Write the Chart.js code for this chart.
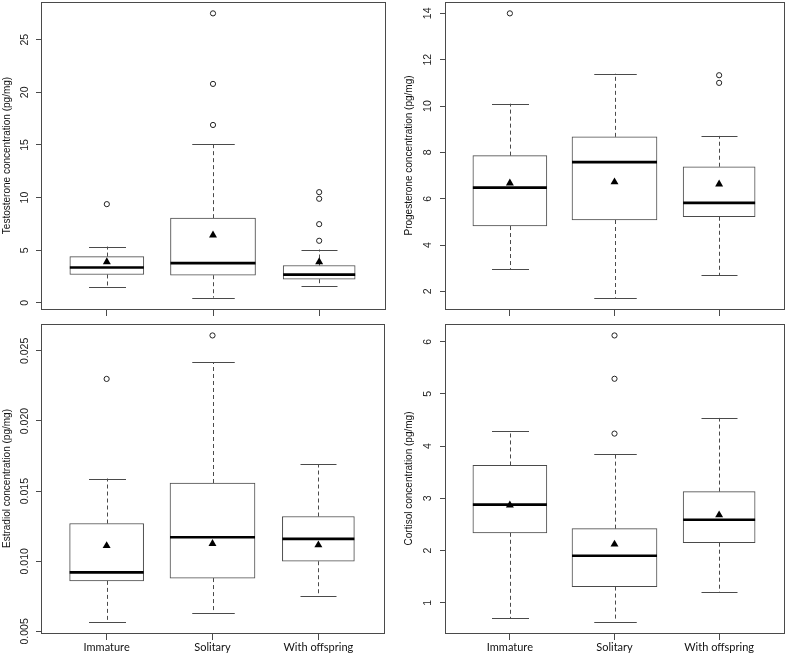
<!DOCTYPE html>
<html>
<head>
<meta charset="utf-8">
<script src="https://cdn.jsdelivr.net/npm/chart.js@4.4.1/dist/chart.umd.min.js"></script>
<style>
    body { margin: 0; background: #fff; }
    #wrap { position: relative; width: 790px; height: 656px; }
    .panel { position: absolute; }
</style>
</head>
<body>
<div id="wrap">
    <div class="panel" style="left:0;top:0"><canvas id="testoChart" width="395" height="322"></canvas></div>
    <div class="panel" style="left:395px;top:0"><canvas id="progChart" width="395" height="322"></canvas></div>
    <div class="panel" style="left:0;top:322px"><canvas id="estraChart" width="395" height="334"></canvas></div>
    <div class="panel" style="left:395px;top:322px"><canvas id="cortChart" width="395" height="334"></canvas></div>
</div>
<script>
const groups = ["Immature", "Solitary", "With offspring"];

// Testosterone (pg/mg)
const testoLow = [1.5, 0.5, 1.65];
const testoQ1 = [2.7, 2.63, 2.25];
const testoMedian = [3.36, 3.77, 2.69];
const testoQ3 = [4.4, 8.05, 3.55];
const testoHigh = [5.35, 15.05, 5.07];
const testoMean = [3.9, 6.43, 3.9];
const testoOutliers = [[9.38], [16.9, 20.8, 27.5], [5.9, 7.48, 9.89, 10.52]];
const testoTicks = [0, 5, 10, 15, 20, 25];
const testoTickLabels = ["0", "5", "10", "15", "20", "25"];

// Progesterone (pg/mg)
const progLow = [2.97, 1.73, 2.69];
const progQ1 = [4.82, 5.08, 5.22];
const progMedian = [6.48, 7.58, 5.82];
const progQ3 = [7.86, 8.67, 7.38];
const progHigh = [10.1, 11.4, 8.71];
const progMean = [6.67, 6.72, 6.63];
const progOutliers = [[14.0], [], [11.0, 11.33]];
const progTicks = [2, 4, 6, 8, 10, 12, 14];
const progTickLabels = ["2", "4", "6", "8", "10", "12", "14"];

// Estradiol (pg/mg)
const estraLow = [0.0057, 0.00628, 0.0075];
const estraQ1 = [0.0086, 0.0088, 0.0100];
const estraMedian = [0.0092, 0.01171, 0.01159];
const estraQ3 = [0.01269, 0.01558, 0.01319];
const estraHigh = [0.0159, 0.0242, 0.0169];
const estraMean = [0.0111, 0.01126, 0.01116];
const estraOutliers = [[0.0230], [0.0261], []];
const estraTicks = [0.005, 0.010, 0.015, 0.020, 0.025];
const estraTickLabels = ["0.005", "0.010", "0.015", "0.020", "0.025"];

// Cortisol (pg/mg)
const cortLow = [0.70, 0.64, 1.20];
const cortQ1 = [2.34, 1.31, 2.15];
const cortMedian = [2.88, 1.90, 2.59];
const cortQ3 = [3.63, 2.42, 3.13];
const cortHigh = [4.29, 3.85, 4.54];
const cortMean = [2.87, 2.12, 2.68];
const cortOutliers = [[], [4.24, 5.29, 6.12], []];
const cortTicks = [1, 2, 3, 4, 5, 6];
const cortTickLabels = ["1", "2", "3", "4", "5", "6"];

const boxWidths = [74, 85, 72];   // varwidth boxes, px
const lineColor = "#4a4a4a";
const axisFont = { family: "'Liberation Sans', Arial, sans-serif", size: 10 };
const groupFont = { family: "Lato, 'Open Sans', sans-serif", size: 11 };

// R-style range: data extent plus 4% each side
function paddedRange(values) {
    const lo = Math.min(...values);
    const hi = Math.max(...values);
    const pad = (hi - lo) * 0.04;
    return [lo - pad, hi + pad];
}

function makeBoxPanel(canvasId, s) {
    const all = [...s.low, ...s.high, ...s.outliers.flat()];
    const [yMin, yMax] = paddedRange(all);

    const outlierSet = {
        type: "scatter",
        label: "outliers",
        data: s.outliers.flatMap((vals, i) => vals.map(v => ({ x: i + 1, y: v }))),
        pointStyle: "circle",
        pointRadius: 2.6,
        borderWidth: 1,
        borderColor: "#222",
        backgroundColor: "rgba(0,0,0,0)",
        order: 1
    };

    const meanSet = {
        type: "scatter",
        label: "mean",
        data: s.mean.map((v, i) => ({ x: i + 1, y: v })),
        pointStyle: "triangle",
        pointRadius: 4.6,
        borderWidth: 0,
        backgroundColor: "#000",
        order: 0
    };

    const boxSets = groups.map((g, i) => ({
        type: "bar",
        label: g,
        data: [{ x: i + 1, y: [s.q1[i], s.q3[i]] }],
        backgroundColor: "#fff",
        borderColor: lineColor,
        borderWidth: 1,
        borderSkipped: false,
        barThickness: boxWidths[i],
        grouped: false,
        order: 3
    }));
    const firstBox = 2;

    const boxParts = {
        id: "boxParts",
        beforeDatasetsDraw(chart) {
            const ctx = chart.ctx;
            const y = chart.scales.y;
            ctx.save();
            ctx.strokeStyle = lineColor;
            ctx.lineWidth = 1;
            groups.forEach((g, i) => {
                const bar = chart.getDatasetMeta(firstBox + i).data[0];
                const cx = Math.round(bar.x) + 0.5;
                const capHalf = bar.width / 4;
                ctx.setLineDash([4, 3]);
                ctx.beginPath();
                ctx.moveTo(cx, y.getPixelForValue(s.q3[i]));
                ctx.lineTo(cx, y.getPixelForValue(s.high[i]));
                ctx.moveTo(cx, y.getPixelForValue(s.q1[i]));
                ctx.lineTo(cx, y.getPixelForValue(s.low[i]));
                ctx.stroke();
                ctx.setLineDash([]);
                ctx.beginPath();
                const yh = Math.round(y.getPixelForValue(s.high[i])) + 0.5;
                const yl = Math.round(y.getPixelForValue(s.low[i])) + 0.5;
                ctx.moveTo(cx - capHalf, yh);
                ctx.lineTo(cx + capHalf, yh);
                ctx.moveTo(cx - capHalf, yl);
                ctx.lineTo(cx + capHalf, yl);
                ctx.stroke();
            });
            ctx.restore();
        },
        afterDatasetDraw(chart, args) {
            const i = args.index - firstBox;
            if (i < 0) return;
            const ctx = chart.ctx;
            const bar = chart.getDatasetMeta(args.index).data[0];
            const ym = chart.scales.y.getPixelForValue(s.median[i]);
            ctx.save();
            ctx.strokeStyle = "#000";
            ctx.lineWidth = 2.7;
            ctx.beginPath();
            ctx.moveTo(bar.x - bar.width / 2, ym);
            ctx.lineTo(bar.x + bar.width / 2, ym);
            ctx.stroke();
            ctx.restore();
        },
        afterDraw(chart) {
            const a = chart.chartArea;
            const ctx = chart.ctx;
            ctx.save();
            ctx.strokeStyle = lineColor;
            ctx.lineWidth = 1;
            ctx.strokeRect(Math.round(a.left) + 0.5, Math.round(a.top) + 0.5,
                Math.round(a.right - a.left), Math.round(a.bottom - a.top));
            // rotated y tick labels, centred on their ticks as in R
            const yAxis = chart.scales.y;
            ctx.fillStyle = "#222";
            ctx.font = "10.5px 'Liberation Sans', Arial, sans-serif";
            ctx.textAlign = "center";
            ctx.textBaseline = "middle";
            yAxis.ticks.forEach((t, k) => {
                ctx.save();
                ctx.translate(a.left - s.labelGap, yAxis.getPixelForValue(t.value));
                ctx.rotate(-Math.PI / 2);
                ctx.fillText(s.tickLabels[k], 0, 0);
                ctx.restore();
            });
            ctx.restore();
        }
    };

    return new Chart(document.getElementById(canvasId), {
        type: "bar",
        data: { datasets: [meanSet, outlierSet, ...boxSets] },
        options: {
            responsive: false,
            animation: false,
            devicePixelRatio: 1,
            layout: { autoPadding: false, padding: { top: s.padTop, right: s.padRight, left: 0, bottom: 0 } },
            plugins: { legend: { display: false }, tooltip: { enabled: false } },
            scales: {
                x: {
                    type: "linear",
                    min: 0.38,
                    max: 3.62,
                    offset: false,
                    afterBuildTicks: axis => { axis.ticks = groups.map((g, i) => ({ value: i + 1 })); },
                    afterFit: axis => { axis.height = s.xAxisHeight; },
                    grid: { offset: false, drawOnChartArea: false, drawTicks: true, tickLength: 7, color: lineColor },
                    border: { display: false },
                    ticks: {
                        autoSkip: false,
                        maxRotation: 0,
                        padding: 1,
                        color: "#111",
                        font: groupFont,
                        callback: (v, i) => s.showGroups ? groups[i] : ""
                    }
                },
                y: {
                    min: yMin,
                    max: yMax,
                    afterBuildTicks: axis => { axis.ticks = s.ticks.map(v => ({ value: v })); },
                    afterFit: axis => { axis.width = s.yAxisWidth; },
                    grid: { drawOnChartArea: false, drawTicks: true, tickLength: 5, color: lineColor },
                    border: { display: false },
                    ticks: { display: false },
                    title: {
                        display: true,
                        text: s.title,
                        color: "#111",
                        font: axisFont,
                        padding: { top: s.titlePad, bottom: 0 }
                    }
                }
            }
        },
        plugins: [boxParts]
    });
}

makeBoxPanel("testoChart", {
    low: testoLow, q1: testoQ1, median: testoMedian, q3: testoQ3, high: testoHigh,
    mean: testoMean, outliers: testoOutliers, ticks: testoTicks, tickLabels: testoTickLabels,
    title: "Testosterone concentration (pg/mg)", showGroups: false,
    yAxisWidth: 41, padTop: 2, padRight: 10, xAxisHeight: 13, labelGap: 16, titlePad: 1
});
makeBoxPanel("progChart", {
    low: progLow, q1: progQ1, median: progMedian, q3: progQ3, high: progHigh,
    mean: progMean, outliers: progOutliers, ticks: progTicks, tickLabels: progTickLabels,
    title: "Progesterone concentration (pg/mg)", showGroups: false,
    yAxisWidth: 50, padTop: 2, padRight: 6, xAxisHeight: 13, labelGap: 17, titlePad: 8.5
});
makeBoxPanel("estraChart", {
    low: estraLow, q1: estraQ1, median: estraMedian, q3: estraQ3, high: estraHigh,
    mean: estraMean, outliers: estraOutliers, ticks: estraTicks, tickLabels: estraTickLabels,
    title: "Estradiol concentration (pg/mg)", showGroups: true,
    yAxisWidth: 41, padTop: 2, padRight: 11, xAxisHeight: 23, labelGap: 16, titlePad: 1
});
makeBoxPanel("cortChart", {
    low: cortLow, q1: cortQ1, median: cortMedian, q3: cortQ3, high: cortHigh,
    mean: cortMean, outliers: cortOutliers, ticks: cortTicks, tickLabels: cortTickLabels,
    title: "Cortisol concentration (pg/mg)", showGroups: true,
    yAxisWidth: 50, padTop: 2, padRight: 6, xAxisHeight: 23, labelGap: 17, titlePad: 8.5
});
</script>
</body>
</html>
